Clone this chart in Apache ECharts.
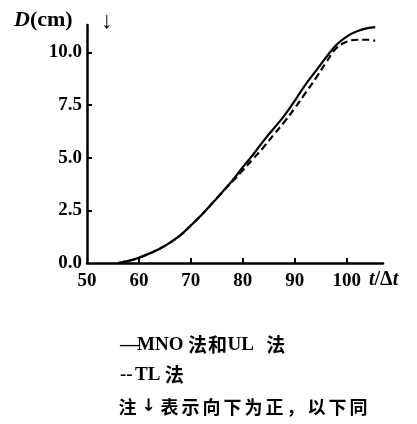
<!DOCTYPE html>
<html>
<head>
<meta charset="utf-8">
<script src="https://cdn.jsdelivr.net/npm/echarts@6/dist/echarts.min.js"></script>
<style>
  html, body { margin: 0; padding: 0; background: #fff; }
  #chart { width: 417px; height: 424px; }
</style>
</head>
<body>
<div id="chart"></div>
<script>
// Time step t/Δt and displacement D (cm)
const tSolid = [56, 58, 60, 62, 64, 66, 68, 70, 72, 74, 76, 78, 80, 82, 84, 86, 88, 90, 92, 94, 96, 98, 100, 102, 104, 105.5];
const dSolid = [0, 0.1, 0.25, 0.45, 0.68, 0.97, 1.32, 1.78, 2.27, 2.8, 3.35, 3.92, 4.55, 5.15, 5.8, 6.4, 7.0, 7.7, 8.45, 9.1, 9.75, 10.35, 10.75, 11.0, 11.15, 11.2];
const tDashed = [56, 58, 60, 62, 64, 66, 68, 70, 72, 74, 76, 78, 80, 82, 84, 86, 88, 90, 92, 94, 96, 98, 100, 102, 104, 105.5];
const dDashed = [0, 0.1, 0.25, 0.45, 0.68, 0.97, 1.32, 1.78, 2.27, 2.8, 3.35, 3.87, 4.4, 4.95, 5.5, 6.1, 6.7, 7.35, 8.05, 8.75, 9.5, 10.2, 10.5, 10.6, 10.6, 10.55];
const xTicks = [50, 60, 70, 80, 90, 100];
const yTicks = [0, 2.5, 5, 7.5, 10];
const notes = ['—MNO 法和UL 法', '--TL 法', '注↓表示向下为正，以下同'];

const serif = '"Liberation Serif", "DejaVu Serif", serif';
const cjk = '"Noto Sans CJK SC", sans-serif';

// Rich-text styles for the note lines below the plot
const noteRich = {
  dash: { fontFamily: serif, fontWeight: 'bold', fontSize: 19, fill: '#000', width: 17 },
  dd: { fontFamily: serif, fontWeight: 'bold', fontSize: 19, fill: '#000', width: 15 },
  L: { fontFamily: serif, fontWeight: 'bold', fontSize: 19, fill: '#000' },
  g: { width: 4 },
  g2: { width: 12 },
  g3: { width: 4 },
  c: { fontFamily: cjk, fontWeight: 'bold', fontSize: 19, fill: '#000', width: 20, align: 'center' },
  w: { fontFamily: cjk, fontWeight: 'bold', fontSize: 18, fill: '#000', width: 21, align: 'center' },
  a: { fontFamily: '"DejaVu Sans", sans-serif', fontWeight: 'bold', fontSize: 17, fill: '#000', width: 21, align: 'center' }
};
const line1 = '{dash|—}{L|MNO}{g|}{c|法}{c|和}{L|UL}{g2|}{c|法}';
const line2 = '{dd|--}{L|TL}{g3|}{c|法}';
const line3 = Array.from(notes[2]).map(ch => ch === '↓' ? '{a|↓}' : '{w|' + ch + '}').join('');

const chart = echarts.init(document.getElementById('chart'));
chart.setOption({
  animation: false,
  backgroundColor: '#fff',
  grid: { left: 87, right: 34, top: 25, bottom: 161 },
  xAxis: {
    type: 'value', min: 50, max: 107,
    splitLine: { show: false },
    axisLine: { lineStyle: { color: '#000', width: 2.5 } },
    axisTick: { inside: true, length: 5, lineStyle: { color: '#000', width: 2 },
      customValues: xTicks.slice(1) },
    axisLabel: { customValues: xTicks, color: '#000', fontFamily: serif, fontWeight: 'bold',
      fontSize: 19, margin: 9 }
  },
  yAxis: {
    type: 'value', min: 0, max: 11.3,
    splitLine: { show: false },
    axisLine: { lineStyle: { color: '#000', width: 2.5 } },
    axisTick: { inside: true, length: 5, lineStyle: { color: '#000', width: 2 },
      customValues: yTicks.slice(1) },
    axisLabel: { customValues: yTicks, color: '#000', fontFamily: serif, fontWeight: 'bold',
      fontSize: 19, margin: 5, formatter: v => v.toFixed(1) }
  },
  series: [
    {
      type: 'line', name: 'MNO 法和UL 法', smooth: 0.4, symbol: 'none',
      data: tSolid.map((t, i) => [t, dSolid[i]]),
      lineStyle: { color: '#000', width: 2.2 }
    },
    {
      type: 'line', name: 'TL 法', smooth: 0.4, symbol: 'none',
      data: tDashed.map((t, i) => [t, dDashed[i]]),
      lineStyle: { color: '#000', width: 2.2, type: [7, 4] }
    }
  ],
  graphic: [
    { type: 'text', x: 14, y: 20,
      style: { text: '{d|D}{n|(cm)}', verticalAlign: 'middle', rich: {
        d: { fontFamily: serif, fontStyle: 'italic', fontWeight: 'bold', fontSize: 22, fill: '#000' },
        n: { fontFamily: serif, fontWeight: 'bold', fontSize: 22, fill: '#000' } } } },
    { type: 'text', x: 107, y: 22,
      style: { text: '↓', align: 'center', verticalAlign: 'middle', fontFamily: serif,
        fontWeight: 'bold', fontSize: 24, fill: '#000' } },
    { type: 'text', x: 369, y: 280,
      style: { text: '{t|t}{n|/Δ}{t|t}', verticalAlign: 'middle', rich: {
        t: { fontFamily: serif, fontStyle: 'italic', fontWeight: 'bold', fontSize: 20, fill: '#000' },
        n: { fontFamily: serif, fontWeight: 'bold', fontSize: 20, fill: '#000' } } } },
    { type: 'text', x: 120, y: 345,
      style: { text: line1, verticalAlign: 'middle', rich: noteRich } },
    { type: 'text', x: 120, y: 375,
      style: { text: line2, verticalAlign: 'middle', rich: noteRich } },
    { type: 'text', x: 117, y: 407,
      style: { text: line3, verticalAlign: 'middle', rich: noteRich } }
  ]
});
</script>
</body>
</html>
